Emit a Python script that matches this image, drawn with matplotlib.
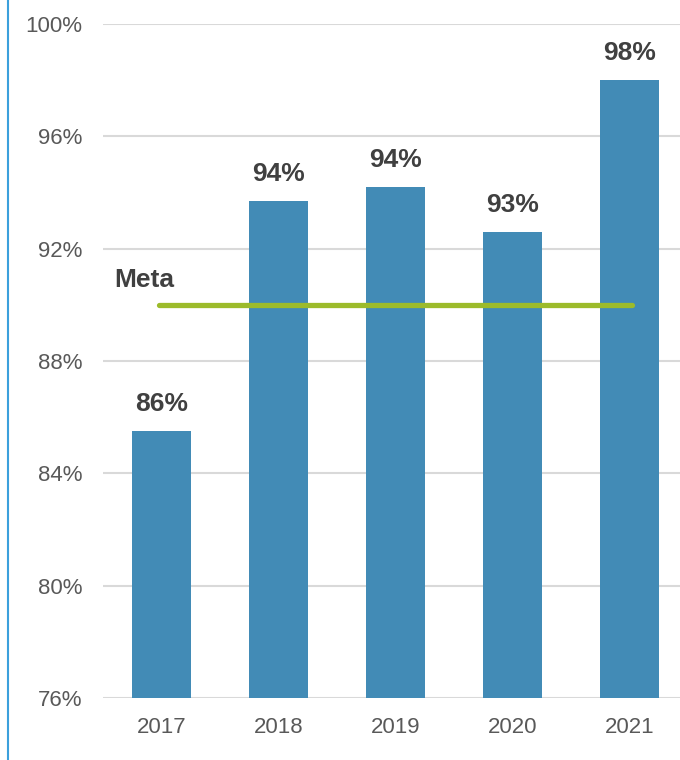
import matplotlib
matplotlib.use("Agg")
import matplotlib.pyplot as plt
from matplotlib.lines import Line2D

years = ["2017", "2018", "2019", "2020", "2021"]
values = [85.5, 93.7, 94.2, 92.6, 98.0]
value_labels = ["86%", "94%", "94%", "93%", "98%"]
meta_value = 90.0
meta_label = "Meta"
yticks = [76, 80, 84, 88, 92, 96, 100]
ytick_labels = ["76%", "80%", "84%", "88%", "92%", "96%", "100%"]

plt.rcParams['font.family'] = ['Liberation Sans', 'DejaVu Sans']

W, H = 680, 760
fig = plt.figure(figsize=(W / 100, H / 100), dpi=100)
left = 103 / W
bottom = (H - 698) / H
top = (H - 24) / H
ax = fig.add_axes([left, bottom, 1 - left, top - bottom])

x = list(range(len(years)))
ax.bar(x, values, width=0.5, color="#428BB6", zorder=3)
ax.set_ylim(76, 100)
ax.set_xlim(-0.5, 4.43)
ax.set_yticks(yticks)
ax.set_yticklabels(ytick_labels)
ax.set_xticks(x)
ax.set_xticklabels(years)
ax.grid(axis="y", color="#D9D9D9", linewidth=1.5, zorder=0)
for s in ax.spines.values():
    s.set_visible(False)
ax.tick_params(axis="both", length=0, labelsize=16, labelcolor="#595959")
ax.tick_params(axis="y", pad=15)
ax.tick_params(axis="x", pad=14)

for xi, v, lab in zip(x, values, value_labels):
    ax.annotate(lab, (xi, v), xytext=(0, 11), textcoords="offset points",
                ha="center", va="bottom", fontsize=19, fontweight="bold",
                color="#404040", zorder=4)

ax.plot([-0.02, 4.02], [meta_value, meta_value], color="#9CBB2B",
        linewidth=3.8, solid_capstyle="round", zorder=4)
ax.text(-0.40, meta_value + 0.88, meta_label, ha="left", va="center",
        fontsize=19, fontweight="bold", color="#404040", zorder=4)

fig.add_artist(Line2D([7.5 / W, 7.5 / W], [0, 1], color="#3BA0DC",
                      linewidth=1.5, transform=fig.transFigure))

fig.savefig("out.png", dpi=100, facecolor="white")
